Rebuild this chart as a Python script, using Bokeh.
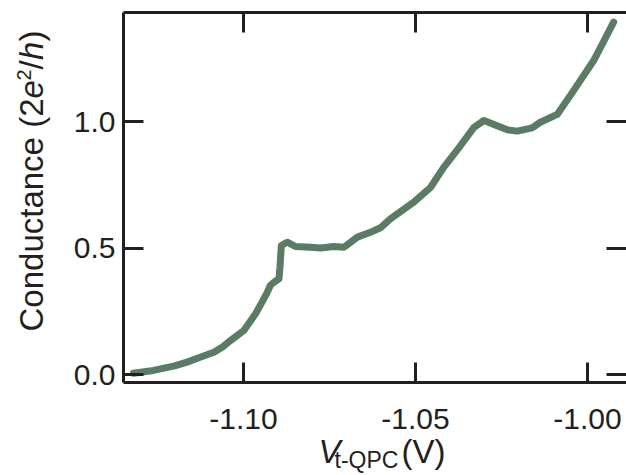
from bokeh.plotting import figure
from bokeh.models import Range1d, LinearAxis, FixedTicker, PrintfTickFormatter, Label
from bokeh.embed import file_html
from bokeh.resources import INLINE

# ---- data ----
voltage = [-1.1320, -1.1262, -1.1200, -1.1164, -1.1130, -1.1086, -1.1060, -1.1038,
           -1.0999, -1.0965, -1.0946, -1.0931, -1.0922, -1.0910, -1.0897, -1.0894,
           -1.0890, -1.0873, -1.0849, -1.0805, -1.0776, -1.0738, -1.0708, -1.0669,
           -1.0631, -1.0602, -1.0573, -1.0505, -1.0456, -1.0418, -1.0369, -1.0330,
           -1.0301, -1.0272, -1.0233, -1.0204, -1.0161, -1.0137, -1.0088, -1.0040,
           -0.9982, -0.9924]
conductance = [0.005, 0.016, 0.034, 0.049, 0.066, 0.088, 0.110, 0.134,
               0.174, 0.240, 0.286, 0.325, 0.352, 0.366, 0.378, 0.424,
               0.510, 0.523, 0.506, 0.503, 0.500, 0.506, 0.503, 0.543,
               0.562, 0.580, 0.615, 0.681, 0.740, 0.819, 0.905, 0.977,
               1.004, 0.988, 0.967, 0.962, 0.975, 0.997, 1.028, 1.123,
               1.241, 1.393]
x_ticks = [-1.10, -1.05, -1.00]
y_ticks = [0.0, 0.5, 1.0]

INK = "#231f20"
GREEN = "#5b7c64"
FONT = "Liberation Sans"

W, H = 626, 475
# the frame fills the canvas; axes are pinned at fixed data locations
XPX = 3440.0          # pixels per volt
YPX = 253.0           # pixels per (2e^2/h)
X0PX, Y0PX = 243.0, 374.0   # pixel of x=-1.10 and of y=0


def X(px):
    return -1.10 + (px - X0PX) / XPX


def Y(py):
    return (Y0PX - py) / YPX


L, R, T, B = 123, 626, 12, 382   # axis box in pixels

p = figure(width=W, height=H, x_range=Range1d(X(0), X(W)), y_range=Range1d(Y(H), Y(0)),
           output_backend="svg", toolbar_location=None, x_axis_location=None,
           y_axis_location=None,
           min_border_left=0, min_border_right=0, min_border_top=0, min_border_bottom=0)
p.outline_line_color = None
p.grid.visible = False

p.line(voltage, conductance, line_color=GREEN, line_width=7,
       line_join="round", line_cap="round")


def make_axis(ticks, fmt, loc, bounds, labels=True, line=True):
    ax = LinearAxis(ticker=FixedTicker(ticks=ticks), fixed_location=loc, bounds=bounds)
    ax.axis_line_color = INK if line else None
    ax.axis_line_width = 3
    ax.major_tick_line_color = INK
    ax.major_tick_line_width = 3
    ax.major_tick_in = 20
    ax.major_tick_out = 0
    ax.minor_tick_line_color = None
    ax.major_label_text_font = FONT
    ax.major_label_text_color = INK
    ax.major_label_text_font_size = "30px"
    if fmt:
        ax.formatter = PrintfTickFormatter(format=fmt)
    if not labels:
        ax.major_label_overrides = {t: "" for t in ticks}
        ax.major_label_standoff = 0
    return ax


xb = (X(L), X(R))
yb = (Y(B), Y(T))

bottom = make_axis(x_ticks, "%.2f", Y(B), xb)
bottom.major_label_standoff = 26
p.add_layout(bottom, "below")

left = make_axis(y_ticks, "%.1f", X(L), yb)
left.major_label_standoff = 8
p.add_layout(left, "left")

top = make_axis(x_ticks, None, Y(T), xb, labels=False)
p.add_layout(top, "above")

right = make_axis(y_ticks, None, X(R), yb, labels=False, line=False)
p.add_layout(right, "right")

SHIFT = 0.42  # baseline correction, in em


def lab(px, py, text, size, italic=False, rotated=False):
    if rotated:
        px = px - SHIFT * size
    else:
        py = py - SHIFT * size
    p.add_layout(Label(x=X(px), y=Y(py), text=text, text_font=FONT,
                       text_font_size=f"{size}px", text_color=INK,
                       text_font_style="italic" if italic else "normal",
                       text_align="left", text_baseline="alphabetic",
                       angle=90 if rotated else 0, angle_units="deg"))


# x axis title:  V_{t-QPC} (V)
lab(318, 465, "V", 33, italic=True)
lab(334, 469, "t-QPC", 23)
lab(401, 465, "(V)", 33)

# y axis title: Conductance (2e^2/h), rotated
bx = 44.5
lab(bx, 331, "Conductance (2", 33, rotated=True)
lab(bx, 98, "e", 33, italic=True, rotated=True)
lab(bx - 13, 80, "2", 20, rotated=True)
lab(bx, 69, "/", 33, rotated=True)
lab(bx, 59.5, "h", 33, italic=True, rotated=True)
lab(bx, 41, ")", 33, rotated=True)

open("out.html", "w").write(file_html(p, INLINE))
